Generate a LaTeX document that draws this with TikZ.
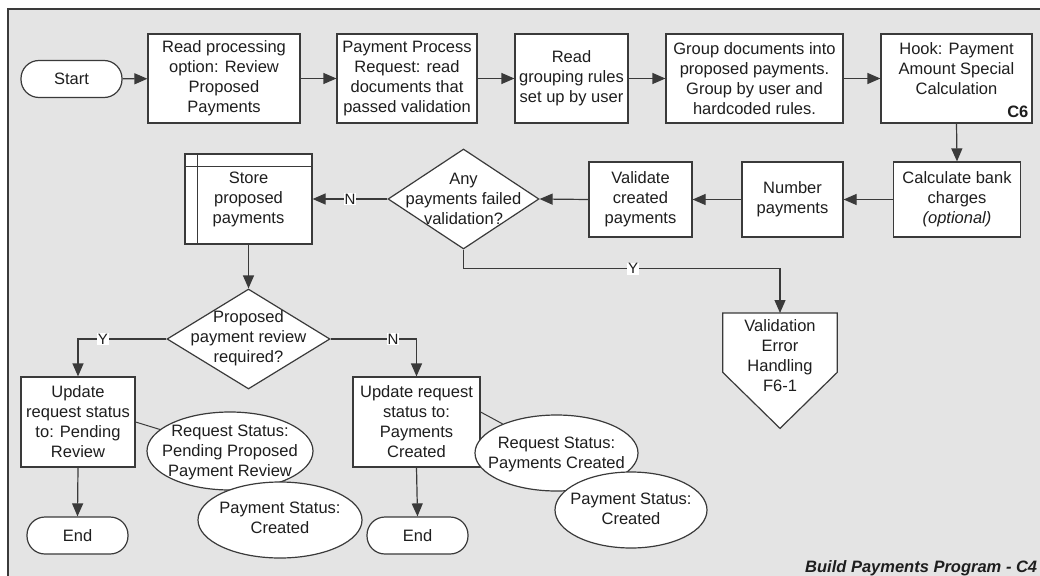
\documentclass[tikz,border=0pt]{standalone}
\usepackage{fontspec}
\setmainfont{Liberation Sans}
\usetikzlibrary{arrows.meta,shapes.geometric}

\definecolor{bgc}{HTML}{E4E4E4}
\definecolor{ln}{HTML}{3A3A3A}
\definecolor{tx}{HTML}{1E1E1E}

\tikzset{
  basefont/.style={font=\fontsize{16.5}{20}\selectfont},
  base/.style={draw=ln, line width=1.2pt, fill=white, inner sep=0pt, text=tx, basefont, align=center},
  proc/.style={base, rectangle, minimum height=89pt},
  row/.style={base, rectangle, minimum height=75pt},
  term/.style={base, rectangle, rounded corners=18pt, minimum width=101pt, minimum height=37pt},
  dec/.style={base, diamond},
  note/.style={base, ellipse},
  txt/.style={text=tx, basefont, align=center, inner sep=0pt},
  flow/.style={draw=ln, line width=1.2pt, -{Triangle[length=13pt,width=11pt]}},
  assoc/.style={draw=ln, line width=1pt},
  lbl/.style={fill=white, inner sep=0.8pt, text=tx, font=\fontsize{15}{16}\selectfont}
}

\begin{document}
\begin{tikzpicture}[x=1pt, y=-1pt]
\useasboundingbox (0,0) rectangle (1040,575);

% page frame
\draw[draw=ln, line width=1.4pt, fill=bgc] (8,9) rectangle (1070,600);

% top row
\node[term] (start) at (71.5,79) {Start};
\node[proc, minimum width=152pt] (b1) at (224,78.5) {Read processing\\option: Review\\Proposed\\Payments};
\node[proc, minimum width=140pt] (b2) at (407,78.5) {Payment Process\\Request: read\\documents that\\passed validation};
\node[proc, minimum width=113pt] (b3) at (571.5,78.5) {Read\\grouping rules\\set up by user};
\node[proc, minimum width=177pt] (b4) at (754.5,78.5) {Group documents into\\proposed payments.\\Group by user and\\hardcoded rules.};
\node[proc, minimum width=151pt] (b5) at (956.5,78.5) {Hook: Payment\\Amount Special\\Calculation\\\mbox{}};
\node[txt, anchor=south east, font=\bfseries\fontsize{16.5}{20}\selectfont] (c6) at ([xshift=-4pt,yshift=6pt]b5.south east) {C6};

% second row
\node[row, minimum width=127pt] (calc) at (957,199.5) {Calculate bank\\charges\\\textit{(optional)}};
\node[row, minimum width=101pt] (num) at (792.5,199.5) {Number\\payments};
\node[row, minimum width=103pt] (val) at (640.5,199.5) {Validate\\created\\payments};
\node[dec, minimum width=151pt, minimum height=100pt] (d1) at (463.5,199) {};
\node[txt] (d1t) at (463.5,199) {Any\\payments failed\\validation?};
\node[base, rectangle, minimum width=127pt, minimum height=90pt] (store) at (248.5,199) {Store\\proposed\\payments};
\draw[draw=ln, line width=1.2pt] ([xshift=13pt]store.north west) -- ([xshift=13pt]store.south west);
\draw[draw=ln, line width=1.2pt] ([yshift=-13pt]store.north west) -- ([yshift=-13pt]store.north east);

% off-page connector
\node[minimum width=114pt, minimum height=115pt, inner sep=0pt, anchor=north] (veh) at (780,313) {};
\draw[draw=ln, line width=1.2pt, fill=white] (veh.north west) -- (veh.north east)
  -- ([yshift=56pt]veh.south east) -- (veh.south) -- ([yshift=56pt]veh.south west) -- cycle;
\node[txt] (veht) at (780,355.5) {Validation\\Error\\Handling\\F6-1};

% review decision
\node[dec, minimum width=163pt, minimum height=100pt] (d2) at (248.5,339) {};
\node[txt] (d2t) at (248.5,338.5) {Proposed\\payment review\\required?};

\node[base, rectangle, minimum width=114pt, minimum height=90pt] (u1) at (78,422) {Update\\request status\\to: Pending\\Review};
\node[base, rectangle, minimum width=127pt, minimum height=90pt] (u2) at (416.5,422) {Update request\\status to:\\Payments\\Created};
\node[term] (e1) at (77.5,535.5) {End};
\node[term] (e2) at (417.5,535.5) {End};

% status notes
\node[note, minimum width=166pt, minimum height=78pt] (rs1) at (230,451) {};
\node[txt] (rs1t) at (230,452.5) {Request Status:\\Pending Proposed\\Payment Review};
\node[note, minimum width=164pt, minimum height=76pt] (ps1) at (280,520) {};
\node[txt] (ps1t) at (280,518) {Payment Status:\\Created};
\node[note, minimum width=163pt, minimum height=76pt] (rs2) at (556.5,453) {};
\node[txt] (rs2t) at (556.5,454) {Request Status:\\Payments Created};
\node[note, minimum width=152pt, minimum height=76pt] (ps2) at (631,510) {};
\node[txt] (ps2t) at (631,509) {Payment Status:\\Created};

\draw[assoc] (u1.east) -- (rs1);
\draw[assoc] ([yshift=10pt]u2.east) -- (rs2);

% connectors
\draw[flow] (start) -- (b1);
\draw[flow] (b1) -- (b2);
\draw[flow] (b2) -- (b3);
\draw[flow] (b3) -- (b4);
\draw[flow] (b4) -- (b5);
\draw[flow] (b5.south) -- (calc.north);
\draw[flow] (calc.west) -- (num.east);
\draw[flow] (num.west) -- (val.east);
\draw[flow] (val.west) -- (d1.east);
\draw[flow] (d1.west) -- node[lbl]{N} (store.east);
\draw[flow] (d1.south) -- ++(0,19) -| node[lbl, pos=0.268]{Y} (veh.north);
\draw[flow] (store.south) -- (d2.north);
\draw[flow] (d2.west) -| node[lbl, pos=0.36]{Y} (u1.north);
\draw[flow] (d2.east) -| node[lbl, pos=0.364]{N} (u2.north);
\draw[flow] (u1.south) -- (e1.north);
\draw[flow] (u2.south) -- (e2.north);

% caption
\node[txt, anchor=base west, font=\bfseries\itshape\fontsize{16.5}{20}\selectfont] (title) at (805,572) {Build Payments Program - C4};
\end{tikzpicture}
\end{document}
